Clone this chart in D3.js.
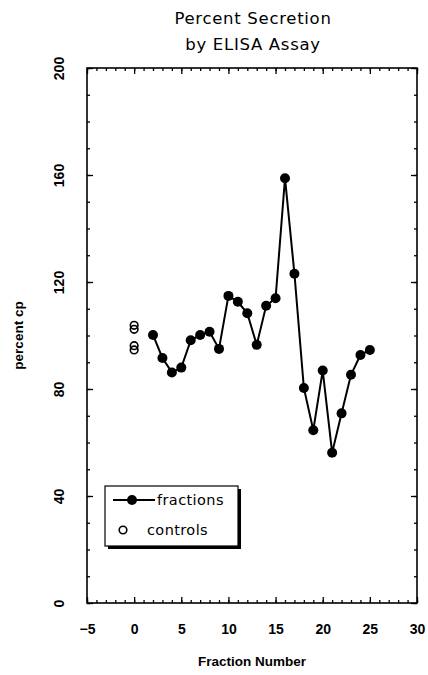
<!DOCTYPE html>
<html>
<head>
<meta charset="utf-8">
<script src="https://cdn.jsdelivr.net/npm/d3@7"></script>
<style>
  html, body { margin: 0; padding: 0; background: #fff; }
  svg { display: block; }
  .title { font-family: "DejaVu Sans", sans-serif; font-size: 16.5px; letter-spacing: 0.7px; }
  .tick-label { font-family: "Liberation Sans", Arial, sans-serif; font-weight: bold; font-size: 14px; }
  .axis-title { font-family: "Liberation Sans", Arial, sans-serif; font-weight: bold; font-size: 13.5px; }
  .legend-text { font-family: "DejaVu Sans", sans-serif; font-size: 14.5px; letter-spacing: 0.4px; }
</style>
</head>
<body>
<svg id="chart" width="428" height="675"></svg>
<script>
// Fraction numbers and their percent secretion values
const fractionNumbers = [2, 3, 4, 5, 6, 7, 8, 9, 10, 11, 12, 13, 14, 15, 16, 17, 18, 19, 20, 21, 22, 23, 24, 25];
const fractionValues  = [100.2, 91.6, 86.2, 88.0, 98.2, 100.2, 101.4, 95.0, 114.8, 112.6, 108.3, 96.5, 111.1, 113.9, 158.8, 123.1, 80.4, 64.6, 86.9, 56.2, 70.9, 85.3, 92.7, 94.6];

// Control samples, all plotted at fraction 0
const controlX = [0, 0, 0, 0];
const controlValues = [103.8, 102.3, 96.2, 94.6];

// Axis ticks
const xMajorTicks = [-5, 0, 5, 10, 15, 20, 25, 30];
const xMinorTicks = d3.range(-5, 31, 1);
const yMajorTicks = [0, 40, 80, 120, 160, 200];
const yMinorTicks = d3.range(0, 201, 10);

const titleLines = ["Percent Secretion", "by ELISA Assay"];
const legendLabels = ["fractions", "controls"];

const svg = d3.select("#chart");
const plot = { left: 87, top: 68, right: 417, bottom: 603 };

const x = d3.scaleLinear().domain([-5, 30]).range([plot.left, plot.right]);
const y = d3.scaleLinear().domain([0, 200]).range([plot.bottom, plot.top]);

// Title
svg.append("g").selectAll("text").data(titleLines).join("text")
  .attr("class", "title")
  .attr("x", (plot.left + plot.right) / 2 + 1)
  .attr("y", (d, i) => 24 + i * 26)
  .attr("text-anchor", "middle")
  .text(d => d);

// Axes: minor + major ticks on all four sides, pointing inward
function drawAxis(axisGen, transform) {
  const g = svg.append("g").attr("transform", transform).call(axisGen);
  g.select(".domain").remove();
  g.selectAll(".tick line").attr("stroke", "#000").attr("stroke-width", 1.3);
  return g;
}
const fmtNone = () => "";

drawAxis(d3.axisBottom(x).tickValues(xMinorTicks).tickSize(-3).tickFormat(fmtNone), `translate(0,${plot.bottom})`);
drawAxis(d3.axisTop(x).tickValues(xMinorTicks).tickSize(-3).tickFormat(fmtNone), `translate(0,${plot.top})`);
drawAxis(d3.axisLeft(y).tickValues(yMinorTicks).tickSize(-3).tickFormat(fmtNone), `translate(${plot.left},0)`);
drawAxis(d3.axisRight(y).tickValues(yMinorTicks).tickSize(-3).tickFormat(fmtNone), `translate(${plot.right},0)`);

const xBottom = drawAxis(d3.axisBottom(x).tickValues(xMajorTicks).tickSize(-6).tickPadding(0).tickFormat(d3.format("d")), `translate(0,${plot.bottom})`);
xBottom.selectAll("text")
  .attr("class", "tick-label")
  .attr("y", 31).attr("dy", 0)
  .attr("fill", "#000");
drawAxis(d3.axisTop(x).tickValues(xMajorTicks).tickSize(-6).tickFormat(fmtNone), `translate(0,${plot.top})`);

const yLeft = drawAxis(d3.axisLeft(y).tickValues(yMajorTicks).tickSize(-6).tickFormat(d3.format("d")), `translate(${plot.left},0)`);
yLeft.selectAll("text")
  .attr("class", "tick-label")
  .attr("x", null).attr("dy", null)
  .attr("text-anchor", "middle")
  .attr("transform", "translate(-23,0) rotate(-90)")
  .attr("fill", "#000");
drawAxis(d3.axisRight(y).tickValues(yMajorTicks).tickSize(-6).tickFormat(fmtNone), `translate(${plot.right},0)`);

// Frame
svg.append("rect")
  .attr("x", plot.left).attr("y", plot.top)
  .attr("width", plot.right - plot.left).attr("height", plot.bottom - plot.top)
  .attr("fill", "none").attr("stroke", "#000").attr("stroke-width", 1.6);

// Axis titles
svg.append("text").attr("class", "axis-title")
  .attr("x", (plot.left + plot.right) / 2).attr("y", 666)
  .attr("text-anchor", "middle").text("Fraction Number");
svg.append("text").attr("class", "axis-title")
  .attr("transform", `translate(23,${(plot.top + plot.bottom) / 2}) rotate(-90)`)
  .attr("text-anchor", "middle").text("percent cp");

// Fraction series
const fractions = fractionNumbers.map((f, i) => ({ x: f, y: fractionValues[i] }));
svg.append("path").datum(fractions)
  .attr("fill", "none").attr("stroke", "#000").attr("stroke-width", 2)
  .attr("d", d3.line().x(d => x(d.x)).y(d => y(d.y)));
svg.append("g").selectAll("circle").data(fractions).join("circle")
  .attr("cx", d => x(d.x)).attr("cy", d => y(d.y)).attr("r", 5).attr("fill", "#000");

// Controls
const controls = controlX.map((c, i) => ({ x: c, y: controlValues[i] }));
svg.append("g").selectAll("circle").data(controls).join("circle")
  .attr("cx", d => x(d.x)).attr("cy", d => y(d.y)).attr("r", 3.8)
  .attr("fill", "none").attr("stroke", "#000").attr("stroke-width", 1.6);

// Legend with drop shadow
const lg = svg.append("g").attr("transform", "translate(105,486)");
const lw = 133, lh = 60;
lg.append("rect").attr("x", 3).attr("y", 3).attr("width", lw).attr("height", lh).attr("fill", "#000");
lg.append("rect").attr("x", 0).attr("y", 0).attr("width", lw).attr("height", lh)
  .attr("fill", "#fff").attr("stroke", "#000").attr("stroke-width", 1.2);
lg.append("line").attr("x1", 8).attr("x2", 50).attr("y1", 14).attr("y2", 14)
  .attr("stroke", "#000").attr("stroke-width", 2);
lg.append("circle").attr("cx", 27).attr("cy", 14).attr("r", 5).attr("fill", "#000");
lg.append("circle").attr("cx", 18).attr("cy", 44).attr("r", 3.8)
  .attr("fill", "none").attr("stroke", "#000").attr("stroke-width", 1.6);
lg.selectAll("text.legend-text").data(legendLabels).join("text")
  .attr("class", "legend-text")
  .attr("x", (d, i) => i === 0 ? 52 : 42)
  .attr("y", (d, i) => i === 0 ? 19 : 49)
  .text(d => d);
</script>
</body>
</html>
